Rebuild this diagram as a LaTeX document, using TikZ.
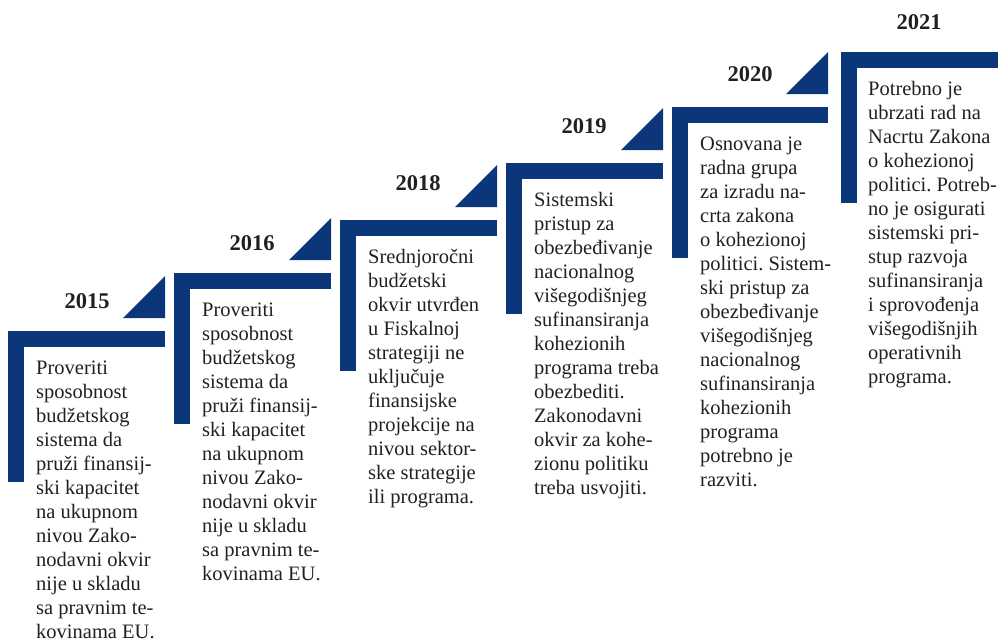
\documentclass[tikz,border=0pt]{standalone}
\usepackage{fontspec}
\setmainfont{Liberation Serif}
\frenchspacing
\definecolor{navy}{RGB}{11,54,122}
\definecolor{ink}{RGB}{35,31,32}
\begin{document}
\begin{tikzpicture}[x=1pt,y=-1pt,
  bar/.style={fill=navy,draw=none},
  yearlbl/.style={font=\fontsize{22.5}{27}\selectfont\bfseries, text=ink, inner sep=0pt},
  body/.style={font=\fontsize{20.5}{24}\selectfont\frenchspacing, text=ink, align=left, inner sep=0pt, anchor=north west}]
\useasboundingbox (0,0) rectangle (998,643);
% steps
\foreach \L/\T/\R in {8/331/165, 174/273/331, 340/220/497, 506/163/663, 672/107/828}{
  \fill[bar] (\L,\T) rectangle (\R,\T+16);
  \fill[bar] (\L,\T) rectangle (\L+16,\T+151);
  \fill[bar] (\R-42,\T-13) -- (\R,\T-13) -- (\R,\T-55) -- cycle;
}
\fill[bar] (841,52) rectangle (998,68);
\fill[bar] (841,52) rectangle (857,203);
% years
\node[yearlbl] (y2015) at (87,301) {2015};
\node[yearlbl] (y2016) at (252,243) {2016};
\node[yearlbl] (y2018) at (418,183) {2018};
\node[yearlbl] (y2019) at (584,126) {2019};
\node[yearlbl] (y2020) at (750,74) {2020};
\node[yearlbl] (y2021) at (919,22) {2021};
% texts
\node[body] (t2015) at (36,357.2) {\strut Proveriti\\sposobnost\\budžetskog\\sistema da\\pruži finansij-\\ski kapacitet\\na ukupnom\\nivou Zako-\\nodavni okvir\\nije u skladu\\sa pravnim te-\\kovinama EU.};
\node[body] (t2016) at (202,299.2) {\strut Proveriti\\sposobnost\\budžetskog\\sistema da\\pruži finansij-\\ski kapacitet\\na ukupnom\\nivou Zako-\\nodavni okvir\\nije u skladu\\sa pravnim te-\\kovinama EU.};
\node[body] (t2018) at (368,246.2) {\strut Srednjoročni\\budžetski\\okvir utvrđen\\u Fiskalnoj\\strategiji ne\\uključuje\\finansijske\\projekcije na\\nivou sektor-\\ske strategije\\ili programa.};
\node[body] (t2019) at (534,189.2) {\strut Sistemski\\pristup za\\obezbeđivanje\\nacionalnog\\višegodišnjeg\\sufinansiranja\\kohezionih\\programa treba\\obezbediti.\\Zakonodavni\\okvir za kohe-\\zionu politiku\\treba usvojiti.};
\node[body] (t2020) at (700,133.2) {\strut Osnovana je\\radna grupa\\za izradu na-\\crta zakona\\o kohezionoj\\politici. Sistem-\\ski pristup za\\obezbeđivanje\\višegodišnjeg\\nacionalnog\\sufinansiranja\\kohezionih\\programa\\potrebno je\\razviti.};
\node[body] (t2021) at (868,78.2) {\strut Potrebno je\\ubrzati rad na\\Nacrtu Zakona\\o kohezionoj\\politici. Potreb-\\no je osigurati\\sistemski pri-\\stup razvoja\\sufinansiranja\\i sprovođenja\\višegodišnjih\\operativnih\\programa.};
\end{tikzpicture}
\end{document}
